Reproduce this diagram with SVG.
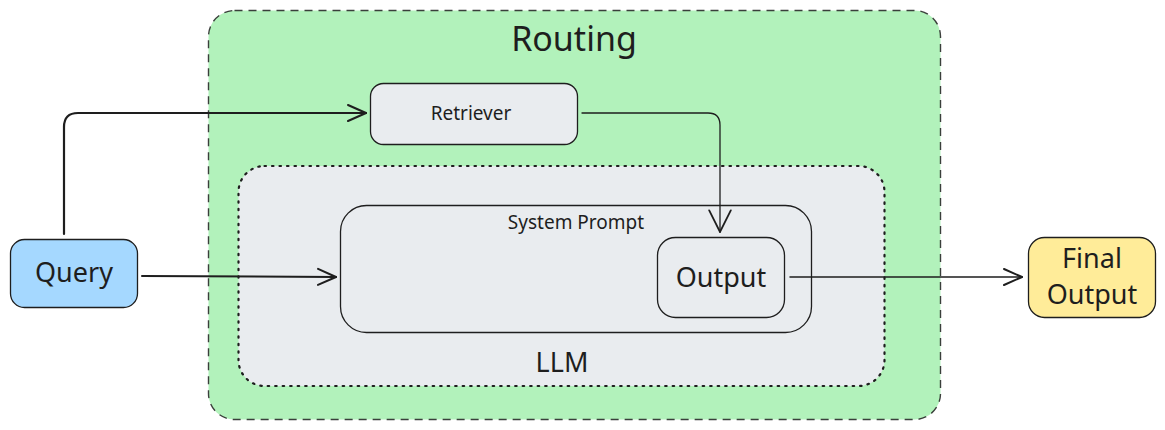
<svg xmlns="http://www.w3.org/2000/svg" width="1165" height="430" viewBox="0 0 1165 430">
<defs>
<style>
text{font-family:"Noto Sans","Open Sans",sans-serif;fill:#1e1e1e;text-anchor:middle}
.node{stroke:#1e1e1e;stroke-width:1.3}
.con{fill:none;stroke:#1e1e1e;stroke-linecap:round;stroke-linejoin:round}
</style>
<marker id="ah" viewBox="0 0 20 20" refX="19" refY="10" markerWidth="20" markerHeight="20" markerUnits="userSpaceOnUse" orient="auto">
<path d="M1,2 L19,10 L1,18" fill="none" stroke="#1e1e1e" stroke-width="2" stroke-linecap="round"/>
</marker>
<marker id="ah2" viewBox="0 0 20 20" refX="19" refY="10" markerWidth="24" markerHeight="24" markerUnits="userSpaceOnUse" orient="auto">
<path d="M1,1 L19,10 L1,19" fill="none" stroke="#1e1e1e" stroke-width="1.5" stroke-linecap="round"/>
</marker>
</defs>
<g id="routing">
<rect x="208.5" y="10.5" width="732" height="409" rx="26" fill="#b2f2bb" stroke="#1e1e1e" stroke-opacity="0.85" stroke-width="1.4" stroke-dasharray="8,6"/>
<text x="574" y="51" font-size="34">Routing</text>
</g>
<g id="llm">
<rect x="238.5" y="166" width="646" height="220" rx="26" fill="#e9ecef" stroke="#1e1e1e" stroke-width="2.2" stroke-dasharray="1.5,6" stroke-linecap="round"/>
<text x="562" y="372" font-size="27">LLM</text>
</g>
<g id="system-prompt">
<rect x="340.5" y="205.5" width="471" height="127" rx="26" fill="#e9ecef" class="node"/>
<text x="576" y="229" font-size="19">System Prompt</text>
</g>
<g id="output">
<rect x="657.5" y="237.5" width="127" height="80" rx="18" fill="#e9ecef" class="node"/>
<text x="721" y="287" font-size="27">Output</text>
</g>
<g id="retriever">
<rect x="370.5" y="83.5" width="207" height="61" rx="13" fill="#e9ecef" class="node"/>
<text x="471" y="120" font-size="19">Retriever</text>
</g>
<g id="query">
<rect x="10.5" y="239.5" width="127" height="68" rx="14" fill="#a5d8ff" class="node"/>
<text x="74" y="282" font-size="27">Query</text>
</g>
<g id="final-output">
<rect x="1028.5" y="237.5" width="127" height="80" rx="16" fill="#ffec99" class="node"/>
<text x="1092" y="268" font-size="27">Final</text>
<text x="1092" y="304" font-size="27">Output</text>
</g>
<g id="connectors">
<path class="con" stroke-width="2.2" d="M64,234 V127 Q64,113 78,113 H366" marker-end="url(#ah)"/>
<path class="con" stroke-width="2" d="M142,276 L336,277" marker-end="url(#ah)"/>
<path class="con" stroke-width="1.3" d="M582,113 H708 Q720,113 720,125 V232" marker-end="url(#ah2)"/>
<path class="con" stroke-width="1.5" d="M790,277 H1022" marker-end="url(#ah)"/>
</g>
</svg>
